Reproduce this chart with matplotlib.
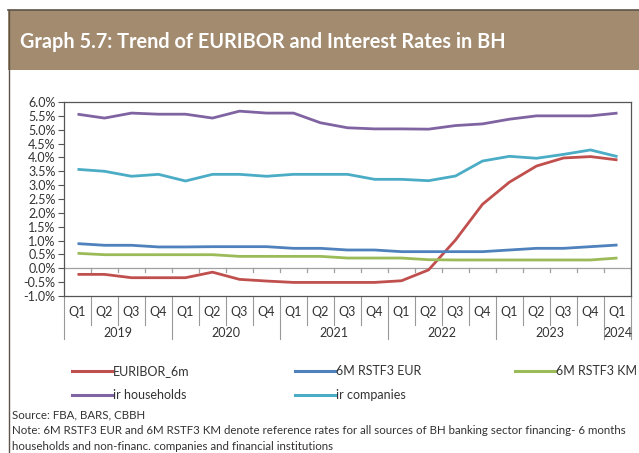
import matplotlib
matplotlib.use('Agg')
import matplotlib.pyplot as plt
import numpy as np
from matplotlib.patches import Rectangle
from matplotlib.lines import Line2D

plt.rcParams['font.family'] = ['Lato', 'DejaVu Sans']

quarters = ['Q1', 'Q2', 'Q3', 'Q4'] * 5 + ['Q1']
years = ['2019', '2020', '2021', '2022', '2023', '2024']

euribor_6m = [-0.22, -0.22, -0.34, -0.34, -0.34, -0.14, -0.40, -0.46, -0.51, -0.51, -0.51,
              -0.51, -0.45, -0.06, 1.02, 2.31, 3.11, 3.69, 3.98, 4.03, 3.91]
rstf3_eur = [0.89, 0.83, 0.83, 0.77, 0.77, 0.78, 0.78, 0.78, 0.72, 0.72, 0.66,
             0.66, 0.60, 0.60, 0.60, 0.60, 0.66, 0.72, 0.72, 0.78, 0.84]
rstf3_km = [0.54, 0.49, 0.49, 0.49, 0.49, 0.49, 0.43, 0.43, 0.43, 0.43, 0.37,
            0.37, 0.37, 0.31, 0.30, 0.30, 0.30, 0.30, 0.30, 0.30, 0.37]
ir_households = [5.56, 5.42, 5.60, 5.56, 5.56, 5.42, 5.67, 5.60, 5.60, 5.25, 5.07,
                 5.03, 5.03, 5.02, 5.15, 5.21, 5.38, 5.50, 5.50, 5.50, 5.60]
ir_companies = [3.57, 3.50, 3.32, 3.39, 3.15, 3.39, 3.39, 3.32, 3.39, 3.39, 3.39,
                3.21, 3.21, 3.16, 3.33, 3.87, 4.04, 3.97, 4.11, 4.27, 4.03]

series = [
    ('EURIBOR_6m', euribor_6m, '#C0504D'),
    ('6M RSTF3 EUR', rstf3_eur, '#4F81BD'),
    ('6M RSTF3 KM', rstf3_km, '#9BBB59'),
    ('ir households', ir_households, '#8064A2'),
    ('ir companies', ir_companies, '#4BACC6'),
]

W, H = 639, 453
fig = plt.figure(figsize=(W / 100, H / 100), dpi=100)

def fx(px):
    return px / W

def fy(py):
    return 1 - py / H

# header band and page borders
fig.patches.append(Rectangle((fx(8), fy(70)), fx(631), fy(10) - fy(70),
                             transform=fig.transFigure, facecolor='#A38B70', edgecolor='none'))
fig.add_artist(Line2D([fx(8), 1], [fy(10), fy(10)], color='#5E5449', lw=1.2))
fig.add_artist(Line2D([fx(9), fx(9)], [fy(10), 0], color='#5E5449', lw=1.0))
fig.text(fx(20), fy(42), 'Graph 5.7: Trend of EURIBOR and Interest Rates in BH',
         color='white', fontsize=14.3, fontweight='bold', va='center', ha='left')

ax = fig.add_axes([fx(64), fy(296), fx(567), fy(102) - fy(296)])
x = np.arange(len(quarters))
for name, vals, col in series:
    ax.plot(x, vals, color=col, lw=2.0, solid_capstyle='butt')

ax.set_xlim(-0.5, len(quarters) - 0.5)
ax.set_ylim(-1.0, 6.0)
yt = np.arange(-1.0, 6.01, 0.5)
ax.set_yticks(yt)
ax.set_yticklabels([f'{v:.1f}%' for v in yt], fontsize=9, color='#333333')
ax.tick_params(axis='y', length=4, width=0.8, color='#555555', pad=2)
ax.set_xticks([])
for s in ax.spines.values():
    s.set_color('#555555')
    s.set_linewidth(0.9)

# zero line with category ticks
ax.axhline(0, color='#A0A0A0', lw=0.9, zorder=0)
for b in np.arange(0.5, len(quarters), 1.0):
    ax.plot([b, b], [0, -0.15], color='#A0A0A0', lw=0.9, zorder=0)

# category labels below the plot
tr = ax.get_xaxis_transform()
for i, q in enumerate(quarters):
    ax.text(i, -0.085, q, transform=tr, ha='center', va='center', fontsize=9, color='#333333')
for b in np.arange(-0.5, len(quarters), 1.0):
    yr_edge = (b + 0.5) % 4 == 0 or b == len(quarters) - 0.5
    ax.plot([b, b], [0, -0.22 if yr_edge else -0.15], transform=tr, color='#999999',
            lw=0.8, clip_on=False)
for k, yr in enumerate(years):
    start = 4 * k - 0.5
    end = min(4 * k + 3.5, len(quarters) - 0.5)
    ax.text((start + end) / 2, -0.19, yr, transform=tr, ha='center', va='center',
            fontsize=9, color='#333333')

# legend
legend_pos = [(72, 371), (295, 371), (515, 371), (72, 395), (295, 395)]
for (name, vals, col), (lx, ly) in zip(series, legend_pos):
    fig.add_artist(Line2D([fx(lx), fx(lx + 40)], [fy(ly), fy(ly)], color=col, lw=2.2))
    fig.text(fx(lx + 41), fy(ly), name, fontsize=9, color='#333333', va='center', ha='left')

# footnotes
notes = [
    'Source: FBA, BARS, CBBH',
    'Note: 6M RSTF3 EUR and 6M RSTF3 KM denote reference rates for all sources of BH banking sector financing- 6 months',
    'households and non-financ. companies and financial institutions',
]
for j, line in enumerate(notes):
    fig.text(fx(12), fy(415 + 15.5 * j), line, fontsize=8.25, color='#333333', va='center', ha='left')

fig.savefig('out.png', dpi=100)
